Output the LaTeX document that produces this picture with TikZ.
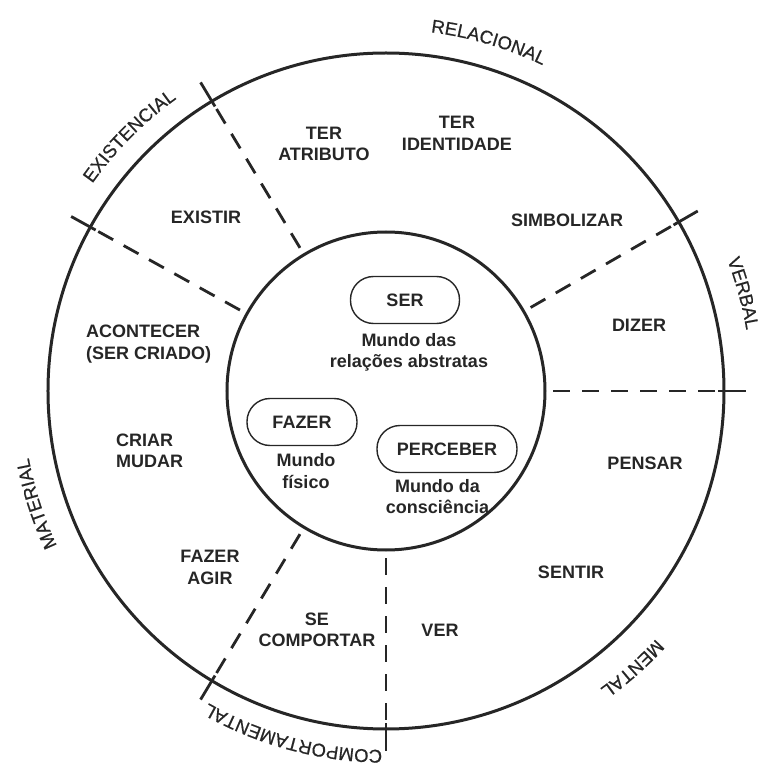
\documentclass[tikz,border=0pt]{standalone}
\usepackage{fontspec}
\setmainfont{Liberation Sans}
\newfontfamily\ringfamily[FakeBold=0.6]{Liberation Sans}
\usetikzlibrary{decorations.text}
\definecolor{ink}{HTML}{262626}
\newcommand\ringfont{\ringfamily\fontsize{18.5}{21}\selectfont}
\newcommand\verbfont{\fontsize{18}{21.5}\selectfont\bfseries}

\begin{document}
\begin{tikzpicture}[x=1pt,y=1pt,
  ring/.style={line width=3pt, draw=ink},
  divider/.style={line width=2.8pt, draw=ink, dash pattern=on 17pt off 12pt},
  tickline/.style={line width=2.8pt, draw=ink},
  procbox/.style={draw=ink, line width=1.4pt, rounded corners=23pt,
    minimum height=47pt, inner sep=0pt, font=\verbfont, text=ink},
  verb/.style={font=\verbfont, text=ink, align=center, inner sep=0pt},
  arclabel/.style={decorate, decoration={text along path, text align=center,
    text color=ink, text={|\ringfont|#1}}}
]
\useasboundingbox (-386,-380) rectangle (374,391);
\coordinate (c) at (0,0);

% the two rings
\draw[ring] (c) circle[radius=338pt];
\draw[ring] (c) circle[radius=159pt];

% dividers between the process types
\foreach \a in {121,151,30,0,270,239}{
  \draw[divider] (\a:167) -- (\a:332);
  \draw[tickline] (\a:332) -- (\a:360);
}

% names of the process types, set along the outer ring
\path[arclabel=RELACIONAL] (113.6:361.5) arc[start angle=113.6, end angle=33.6, radius=361.5pt];
\path[arclabel=EXISTENCIAL] (175.2:359.5) arc[start angle=175.2, end angle=95.2, radius=359.5pt];
\path[arclabel=VERBAL] (55.3:365.5) arc[start angle=55.3, end angle=-24.7, radius=365.5pt];
\path[arclabel=MATERIAL] (237.9:363.5) arc[start angle=237.9, end angle=157.9, radius=363.5pt];
\path[arclabel=COMPORTAMENTAL] (294.9:359) arc[start angle=294.9, end angle=214.9, radius=359pt];
\path[arclabel=MENTAL] (351.6:366.5) arc[start angle=351.6, end angle=271.6, radius=366.5pt];

% core of the diagram
\node[procbox, minimum width=109pt] (ser) at (19,91) {SER};
\node[procbox, minimum width=110pt] (fazer) at (-84,-31) {FAZER};
\node[procbox, minimum width=140pt] (perceber) at (61,-58) {PERCEBER};
\node[verb] (mundoabs) at (23,38.5) {Mundo das\\relações abstratas};
\node[verb] (mundofis) at (-80,-80) {Mundo\\físico};
\node[verb] (mundocon) at (51.5,-105.5) {Mundo da\\consciência};

% verbs in the outer band
\node[verb] (teratr) at (-62,247) {TER\\ATRIBUTO};
\node[verb] (terid) at (71,257.5) {TER\\IDENTIDADE};
\node[verb] (existir) at (-180,174) {EXISTIR};
\node[verb] (simb) at (181,171) {SIMBOLIZAR};
\node[verb] (dizer) at (253,66) {DIZER};
\node[verb, align=left, anchor=west] (acontecer) at (-300,47) {ACONTECER\\(SER CRIADO)};
\node[verb, align=left, anchor=west] (criar) at (-270,-60) {CRIAR\\MUDAR};
\node[verb] (fazeragir) at (-176,-176.5) {FAZER\\AGIR};
\node[verb] (secomp) at (-69,-239) {SE\\COMPORTAR};
\node[verb] (pensar) at (259,-72) {PENSAR};
\node[verb] (sentir) at (185,-181) {SENTIR};
\node[verb] (ver) at (54,-239) {VER};
\end{tikzpicture}
\end{document}
